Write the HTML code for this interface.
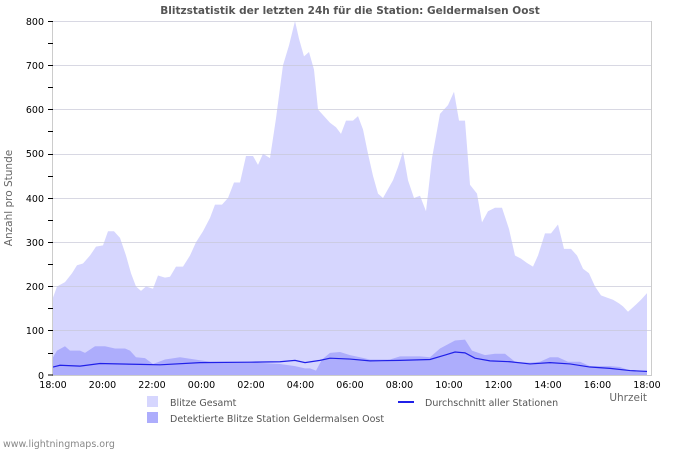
<!DOCTYPE html>
<html><head><meta charset="utf-8"><style>
html,body{margin:0;padding:0;background:#fff;}
svg{display:block;font-family:"DejaVu Sans","Liberation Sans",sans-serif;}
</style></head><body>
<svg width="700" height="450" viewBox="0 0 700 450" xmlns="http://www.w3.org/2000/svg">
<rect width="700" height="450" fill="#fff"/>
<g transform="translate(0,375) scale(1,-0.4425)">
<polygon fill="#d6d6fe" points="53,0 53,175 57,200 65,210 72,230 77,248 83,252 90,270 96,290 103,293 108,325 114,325 120,310 126,270 131,230 136,200 141,190 146,200 153,195 158,225 165,220 170,222 176,245 183,245 190,270 196,300 203,325 210,355 215,385 222,385 228,400 234,435 240,435 246,495 253,495 258,475 263,500 270,490 276,580 283,700 289,745 295,800 299,760 304,720 309,730 314,690 318,600 324,585 330,570 336,560 341,545 346,575 353,575 358,585 363,555 368,500 373,450 378,410 383,400 388,420 393,440 398,470 403,505 408,440 414,400 420,405 426,370 432,490 440,590 448,610 454,640 459,575 465,575 470,430 477,410 482,345 488,370 495,378 502,378 509,330 515,270 521,263 527,253 533,245 538,270 545,320 551,320 558,340 564,285 571,285 577,270 583,240 589,230 595,200 601,180 607,175 613,170 619,162 623,155 628,143 634,155 641,170 647,185 647,0"/>
<polygon fill="#adadfc" points="53,0 53,40 57,55 65,65 70,55 80,55 85,50 95,65 105,65 115,60 125,60 130,55 136,40 145,38 153,25 165,35 180,40 195,35 210,30 230,30 250,30 262,27 280,25 295,20 305,15 310,15 316,10 322,35 330,50 340,52 350,45 360,40 370,35 380,35 390,35 400,42 420,42 430,40 440,60 455,78 465,80 472,55 485,45 495,48 505,48 515,30 530,28 540,30 550,40 558,40 568,30 580,30 590,20 600,20 610,20 620,18 630,10 647,10 647,0"/>
<polyline fill="none" stroke="#2020e8" stroke-width="1.2" vector-effect="non-scaling-stroke" points="53,18 60,22 80,20 100,26 140,24 160,23 200,28 250,29 280,30 295,33 305,28 320,33 330,38 350,36 370,32 400,33 430,35 445,45 455,52 465,50 475,38 490,32 510,30 530,25 550,28 570,25 590,18 610,15 630,10 647,8"/>
</g>
<g stroke="#c8c8d8" stroke-width="1" opacity="0.7">
<line x1="53" x2="651" y1="330.5" y2="330.5"/><line x1="53" x2="651" y1="286.5" y2="286.5"/><line x1="53" x2="651" y1="242.5" y2="242.5"/><line x1="53" x2="651" y1="198.5" y2="198.5"/><line x1="53" x2="651" y1="154.5" y2="154.5"/><line x1="53" x2="651" y1="109.5" y2="109.5"/><line x1="53" x2="651" y1="65.5" y2="65.5"/><line x1="53" x2="651" y1="21.5" y2="21.5"/>
</g>
<line x1="651.5" x2="651.5" y1="21" y2="375" stroke="#ccc"/>
<line x1="52.5" x2="52.5" y1="21" y2="376" stroke="#ccc"/>
<line x1="52" x2="652" y1="375.5" y2="375.5" stroke="#ccc"/>
<g stroke="#000" stroke-width="1">
<line x1="48" x2="53" y1="375" y2="375"/>
<line x1="48" x2="53" y1="353.5" y2="353.5"/><line x1="48" x2="53" y1="330.5" y2="330.5"/><line x1="48" x2="53" y1="308.5" y2="308.5"/><line x1="48" x2="53" y1="286.5" y2="286.5"/><line x1="48" x2="53" y1="264.5" y2="264.5"/><line x1="48" x2="53" y1="242.5" y2="242.5"/><line x1="48" x2="53" y1="220.5" y2="220.5"/><line x1="48" x2="53" y1="198.5" y2="198.5"/><line x1="48" x2="53" y1="176.5" y2="176.5"/><line x1="48" x2="53" y1="154.5" y2="154.5"/><line x1="48" x2="53" y1="131.5" y2="131.5"/><line x1="48" x2="53" y1="109.5" y2="109.5"/><line x1="48" x2="53" y1="87.5" y2="87.5"/><line x1="48" x2="53" y1="65.5" y2="65.5"/><line x1="48" x2="53" y1="43.5" y2="43.5"/><line x1="48" x2="53" y1="21.5" y2="21.5"/>
</g>
<g id="xt" stroke="#000" stroke-width="1"></g>
<script>
var g=document.getElementById('xt'),s='';
for(var i=0;i<=48;i++){var x=(53+i*12.375).toFixed(1);var h=(i%4==0)?5:3;s+='<line x1="'+x+'" x2="'+x+'" y1="'+(375-h)+'" y2="375"/>';}
g.innerHTML=s;
</script>
<g font-size="9.5" fill="#000" text-anchor="end">
<text x="44" y="379">0</text><text x="44" y="334">100</text><text x="44" y="290">200</text><text x="44" y="246">300</text><text x="44" y="202">400</text><text x="44" y="157">500</text><text x="44" y="113">600</text><text x="44" y="69">700</text><text x="44" y="25">800</text>
</g>
<g font-size="9.5" fill="#000" text-anchor="middle">
<text x="53" y="388">18:00</text><text x="102.5" y="388">20:00</text><text x="152" y="388">22:00</text><text x="201.5" y="388">00:00</text><text x="251" y="388">02:00</text><text x="300.5" y="388">04:00</text><text x="350" y="388">06:00</text><text x="399.5" y="388">08:00</text><text x="449" y="388">10:00</text><text x="498.5" y="388">12:00</text><text x="548" y="388">14:00</text><text x="597.5" y="388">16:00</text><text x="647" y="388">18:00</text>
</g>
<text x="350" y="14" font-size="10.5" font-weight="bold" fill="#555" text-anchor="middle">Blitzstatistik der letzten 24h für die Station: Geldermalsen Oost</text>
<text transform="translate(12,198) rotate(-90)" font-size="10.5" fill="#666" text-anchor="middle">Anzahl pro Stunde</text>
<text x="647" y="401" font-size="10.5" fill="#666" text-anchor="end">Uhrzeit</text>
<rect x="147" y="396" width="11" height="11" fill="#d6d6fe"/>
<rect x="147" y="412" width="11" height="11" fill="#adadfc"/>
<text x="170" y="406" font-size="9.5" fill="#555">Blitze Gesamt</text>
<text x="170" y="422" font-size="9.5" fill="#555">Detektierte Blitze Station Geldermalsen Oost</text>
<line x1="398" x2="414" y1="402" y2="402" stroke="#2020e8" stroke-width="2"/>
<text x="425" y="406" font-size="9.5" fill="#555">Durchschnitt aller Stationen</text>
<text x="3" y="447" font-size="9.5" fill="#888">www.lightningmaps.org</text>
</svg>
</body></html>
